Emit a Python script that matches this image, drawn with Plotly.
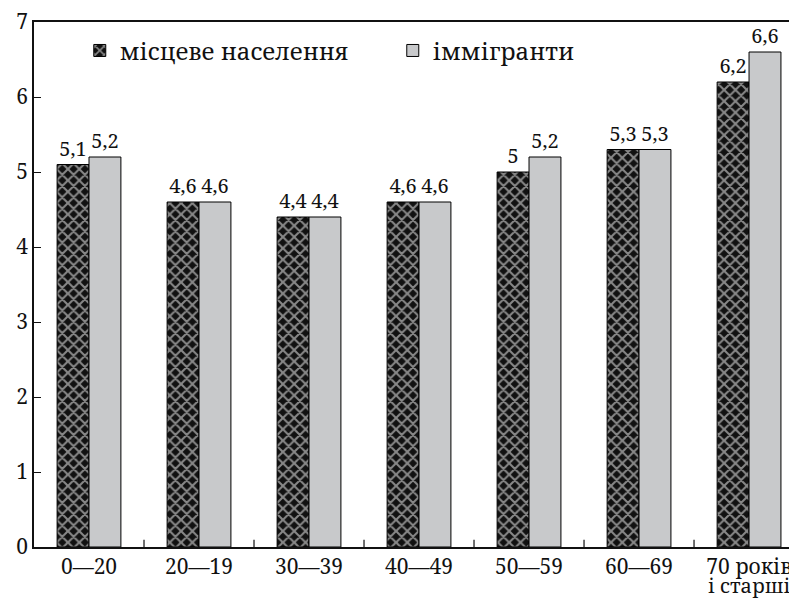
import plotly.graph_objects as go

categories = ["0—20", "20—19", "30—39", "40—49", "50—59", "60—69", "70 років"]
last_label_line2 = "і старші"
local_vals = [5.1, 4.6, 4.4, 4.6, 5.0, 5.3, 6.2]
immig_vals = [5.2, 4.6, 4.4, 4.6, 5.2, 5.3, 6.6]
series_names = ["місцеве населення", "іммігранти"]
y_ticks = [0, 1, 2, 3, 4, 5, 6, 7]

def fmt(v):
    return ("%g" % v).replace(".", ",")

FONT = "Noto Serif"
INK = "#111111"

fig = go.Figure()
fig.add_trace(go.Bar(
    x=categories, y=local_vals, name=series_names[0],
    text=[fmt(v) for v in local_vals], textposition="outside",
    textfont=dict(family=FONT, size=20, color=INK),
    marker=dict(color=INK, line=dict(color="#000", width=1),
                pattern=dict(shape="x", fgcolor="#ffffff", bgcolor=INK, size=8, solidity=0.45, fillmode="overlay")),
    cliponaxis=False,
))
fig.add_trace(go.Bar(
    x=categories, y=immig_vals, name=series_names[1],
    text=[fmt(v) for v in immig_vals], textposition="outside",
    textfont=dict(family=FONT, size=20, color=INK),
    marker=dict(color="#c8c9cb", line=dict(color="#000", width=1)),
    cliponaxis=False,
))
# second line of the last category label
fig.add_annotation(x=categories[-1], xref="x", y=-0.074, yref="paper", yanchor="middle",
                   text=last_label_line2, showarrow=False,
                   font=dict(family=FONT, size=20, color=INK))

# page body has an 8px margin, so the figure is 8px smaller and shifted
fig.update_layout(
    width=789, height=590,
    margin=dict(l=26, r=0, t=14, b=51, autoexpand=False),
    paper_bgcolor="white", plot_bgcolor="white",
    barmode="group", bargap=0.42, bargroupgap=0,
    font=dict(family=FONT, size=21, color=INK),
    showlegend=True,
    legend=dict(orientation="h", x=0.06, y=0.945, xanchor="left", yanchor="middle",
                font=dict(family=FONT, size=24, color=INK),
                bgcolor="rgba(0,0,0,0)", entrywidth=268, entrywidthmode="pixels",
                traceorder="normal"),
)
fig.update_xaxes(
    range=[-0.5, 6.436], showline=True, linecolor=INK, linewidth=1.5, mirror=True,
    ticks="", tickfont=dict(family=FONT, size=21, color=INK),
    showgrid=False, zeroline=False, automargin=False,
    ticklabeloverflow="allow",
)
fig.update_yaxes(
    range=[0, 7], tickmode="array", tickvals=y_ticks, ticktext=[str(t) for t in y_ticks],
    showline=True, linecolor=INK, linewidth=1.5,
    ticks="inside", ticklen=7, tickcolor=INK, tickwidth=1.2,
    tickfont=dict(family=FONT, size=21, color=INK),
    showgrid=False, zeroline=False, automargin=False,
    ticklabeloverflow="allow",
)
for i in range(len(categories) - 1):
    fig.add_shape(type="line", xref="x", yref="paper", x0=i + 0.5, x1=i + 0.5, y0=0, y1=0.014,
                  line=dict(color=INK, width=1.2))

fig.write_html("out.html")
